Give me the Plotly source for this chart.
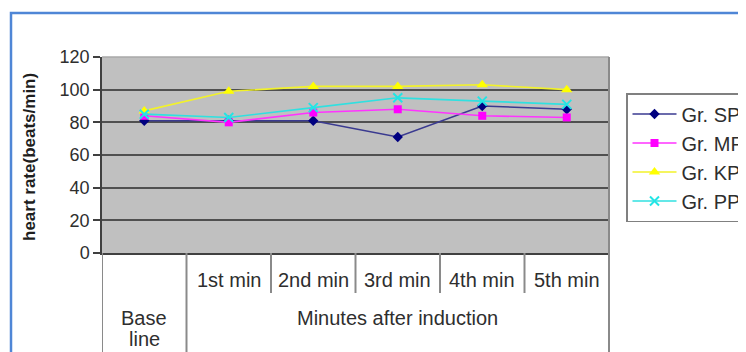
import plotly.graph_objects as go

# ---- data ----
categories = ["Base line", "1st min", "2nd min", "3rd min", "4th min", "5th min"]
tick_labels = ["1st min", "2nd min", "3rd min", "4th min", "5th min"]
group_label = "Minutes after induction"
baseline_words = ["Base", "line"]
y_title = "heart rate(beats/min)"

gr_sp = [81, 81, 81, 71, 90, 88]
gr_mp = [84, 80, 86, 88, 84, 83]
gr_kp = [87, 99, 102, 102, 103, 100]
gr_pp = [85, 83, 89, 95, 93, 91]

series = [
    ("Gr. SP", gr_sp, "#000080", "#3a3a90", "diamond", 8),
    ("Gr. MP", gr_mp, "#ff00ff", "#ff33ff", "square", 8),
    ("Gr. KP", gr_kp, "#ffff00", "#f2f22a", "triangle-up", 10),
    ("Gr. PP", gr_pp, "#22e5e5", "#30e0e0", "x-thin-open", 9),
]

# the page body has an 8px margin: the figure starts at (8, 8) in the window
OFF = 8
W, H = 746 - OFF, 352 - OFF
L, R, T, B = 102 - OFF, 609 - OFF, 57 - OFF, 253 - OFF  # plot-area box (figure px)


def px(xp):  # window pixel -> paper x
    return (xp - OFF - L) / (R - L)


def py(yp):  # window pixel -> paper y
    return (B - (yp - OFF)) / (B - T)


fig = go.Figure()
for i, (name, vals, mcol, lcol, sym, size) in enumerate(series):
    marker = dict(symbol=sym, size=size, color=mcol)
    if sym.startswith("x-thin"):
        marker["line"] = dict(color=mcol, width=2)
    fig.add_trace(go.Scatter(
        x=categories, y=vals, name=name, mode="lines+markers",
        line=dict(color=lcol, width=1.6), marker=marker,
        legendgroup=f"g{i}",
    ))

font_family = "Liberation Sans, Arial, sans-serif"
text_col = "#2e2e2e"
grid_col = "#505050"
table_col = "#8a8a8a"
frame_col = "#4f86d6"
lab_size = 20

shapes = []
# outer blue frame (right and bottom edges lie beyond the picture)
shapes.append(dict(type="rect", xref="paper", yref="paper",
                   x0=px(11), x1=px(800), y0=py(400), y1=py(13),
                   line=dict(color=frame_col, width=2.5), layer="below"))
# top border of plot
shapes.append(dict(type="line", xref="paper", yref="paper",
                   x0=0, x1=1, y0=1, y1=1, line=dict(color="#a8a8a8", width=1.5)))
# right border (plot + table)
shapes.append(dict(type="line", xref="paper", yref="paper",
                   x0=1, x1=1, y0=py(360), y1=1, line=dict(color=table_col, width=2)))
# table: left edge and baseline separator, full height
for xv in [-0.5, 0.5]:
    shapes.append(dict(type="line", xref="x", yref="paper",
                       x0=xv, x1=xv, y0=py(360), y1=0,
                       line=dict(color=table_col, width=2)))
# separators between minute labels
for xv in [1.5, 2.5, 3.5, 4.5]:
    shapes.append(dict(type="line", xref="x", yref="paper",
                       x0=xv, x1=xv, y0=py(293), y1=0,
                       line=dict(color=table_col, width=2)))

annotations = []
for lab in tick_labels:
    annotations.append(dict(x=lab, y=py(280), xref="x", yref="paper",
                            xanchor="center", yanchor="middle",
                            text=lab, showarrow=False,
                            font=dict(size=lab_size, color=text_col, family=font_family)))
annotations.append(dict(x=3, y=py(318), xref="x", yref="paper",
                        xanchor="center", yanchor="middle",
                        text=group_label, showarrow=False,
                        font=dict(size=lab_size, color=text_col, family=font_family)))
for word, yy in zip(baseline_words, [318, 339]):
    annotations.append(dict(x=0, y=py(yy), xref="x", yref="paper",
                            xanchor="center", yanchor="middle",
                            text=word, showarrow=False,
                            font=dict(size=lab_size, color=text_col, family=font_family)))
annotations.append(dict(x=px(29), y=py(157), xref="paper", yref="paper",
                        xanchor="center", yanchor="middle",
                        text=f"<b>{y_title}</b>", textangle=-90, showarrow=False,
                        font=dict(size=17, color="#1e1e1e", family=font_family)))

fig.update_layout(
    width=W, height=H,
    margin=dict(l=L, r=W - R, t=T, b=H - B, pad=0, autoexpand=False),
    paper_bgcolor="white",
    plot_bgcolor="#c0c0c0",
    font=dict(family=font_family, color=text_col),
    showlegend=True,
    legend=dict(x=px(626), y=py(93), xanchor="left", yanchor="top",
                bgcolor="white", bordercolor="#808080", borderwidth=1.5,
                font=dict(size=20, color=text_col, family=font_family),
                tracegroupgap=0, itemwidth=44),
    xaxis=dict(type="category", range=[-0.5, 5.5], showticklabels=False,
               showgrid=False, ticks="", showline=True,
               linecolor="#404040", linewidth=1.5, zeroline=False, fixedrange=True),
    yaxis=dict(range=[0, 120], dtick=20, tick0=0, showgrid=True,
               gridcolor=grid_col, gridwidth=1.5, zeroline=False,
               showline=True, linecolor="#404040", linewidth=1.5,
               ticks="outside", ticklen=7, tickcolor="#404040", tickwidth=1.5,
               tickfont=dict(size=18, color=text_col, family=font_family),
               fixedrange=True),
    shapes=shapes,
    annotations=annotations,
)

fig.write_html("out.html")
